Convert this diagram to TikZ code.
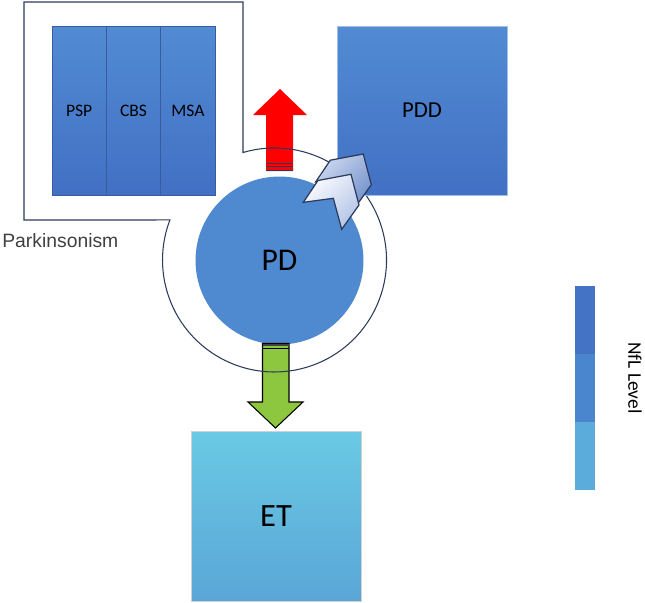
\documentclass[tikz,border=0pt]{standalone}
\usepackage{fontspec}
\setmainfont{Carlito}
\newfontfamily\arialfont{Liberation Sans}
\usetikzlibrary{positioning}
\definecolor{boxtop}{RGB}{81, 139, 211}
\definecolor{boxbot}{RGB}{66, 112, 196}
\definecolor{boxedge}{RGB}{56, 92, 158}
\definecolor{pdblue}{RGB}{79, 137, 207}
\definecolor{ettop}{RGB}{106, 202, 228}
\definecolor{etbot}{RGB}{90, 166, 215}
\definecolor{ringnavy}{RGB}{44, 58, 92}
\definecolor{arrowred}{RGB}{255, 0, 0}
\definecolor{arrowgreen}{RGB}{141, 198, 63}
\definecolor{chevlight}{RGB}{250, 251, 255}
\definecolor{chevmid}{RGB}{180, 197, 231}
\definecolor{chevdark}{RGB}{116, 146, 203}
\definecolor{levhigh}{RGB}{68, 114, 196}
\definecolor{levmid}{RGB}{74, 134, 206}
\definecolor{levlow}{RGB}{91, 172, 218}
\definecolor{labelgray}{RGB}{64, 64, 64}
\tikzset{
  dxcol/.style      = {rectangle, top color=boxtop, bottom color=boxbot, draw=boxedge, line width=0.4pt, inner sep=0pt, outer sep=0pt, minimum width=1.087cm, minimum height=3.38cm, font=\fontsize{10}{12}\selectfont},
  dxbig/.style      = {rectangle, top color=boxtop, bottom color=boxbot, draw=boxtop!55!white, line width=0.4pt, inner sep=0pt, minimum width=3.4cm, minimum height=3.38cm, font=\fontsize{13}{15}\selectfont},
  etbox/.style      = {rectangle, top color=ettop, bottom color=etbot, draw=black!18, line width=0.4pt, inner sep=0pt, minimum width=3.4cm, minimum height=3.4cm, font=\fontsize{18.5}{20}\selectfont},
  pdcircle/.style   = {circle, fill=pdblue, inner sep=0pt, minimum size=3.36cm, font=\fontsize{18}{20}\selectfont},
  ringline/.style   = {draw=ringnavy, line width=0.6pt},
  redarrow/.style   = {fill=arrowred},
  greenarrow/.style = {draw=black, line width=0.6pt, fill=arrowgreen},
  stripe/.style     = {ringnavy, line width=0.6pt},
  chevback/.style   = {draw=ringnavy, line width=0.7pt, left color=chevmid!70!white, right color=chevdark, shading angle=45},
  chevfront/.style  = {draw=ringnavy, line width=0.7pt, left color=chevlight, right color=chevmid, shading angle=45},
}

\begin{document}
\begin{tikzpicture}[x=0.02cm, y=-0.02cm]
  \useasboundingbox (0,0) rectangle (645,602);

  \node[pdcircle] (pd) at (279.5,260.5) {PD};

  \fill[redarrow] (280,89) -- (307,115) -- (293,115) -- (293,171) -- (266,171) -- (266,115) -- (253,115) -- cycle;
  \foreach \y in {163.5,166.8,170.3}
    \draw[stripe] (266,\y) -- (293,\y);

  \draw[greenarrow] (262.5,343.5) -- (289,343.5) -- (289,402) -- (303,402) -- (275.5,428) -- (248,402) -- (262.5,402) -- cycle;
  \fill[black!75] (262.5,343.5) rectangle (289,346.3);
  \draw[black, line width=0.6pt] (262.5,348.3) -- (289,348.3);

  \draw[ringline] (24,2) -- (243,2) -- (243,152.5) arc[start angle=-106.34, end angle=200.93, radius=112] -- (24,220) -- cycle;

  \node[dxcol] (psp) at (79.2,110.5) {PSP};
  \node[dxcol, right=0pt of psp] (cbs) {CBS};
  \node[dxcol, right=0pt of cbs] (msa) {MSA};
  \node[dxbig] (pdd) at (422,110.5) {PDD};
  \node[etbox] (et) at (276,516) {ET};

  \shade[chevback, shift={(12.3,-20.3)}] (303.3,202.3) -- (318,180.5) -- (351,174.3) -- (359,205) -- (341.7,229.3) -- (333.3,198.3) -- cycle;
  \shade[chevfront] (303.3,202.3) -- (318,180.5) -- (351,174.3) -- (359,205) -- (341.7,229.3) -- (333.3,198.3) -- cycle;

  \node[anchor=base west, inner sep=0pt, text=labelgray, font=\arialfont\fontsize{11}{13}\selectfont] (parkinsonism) at (2,247) {Parkinsonism};

  \fill[levhigh] (575,286) rectangle (595,354);
  \fill[levmid] (575,354) rectangle (595,422);
  \fill[levlow] (575,422) rectangle (595,490);
  \node[rotate=-90, inner sep=0pt, font=\fontsize{11}{13}\selectfont] (nfl) at (635,378) {NfL Level};
\end{tikzpicture}
\end{document}
